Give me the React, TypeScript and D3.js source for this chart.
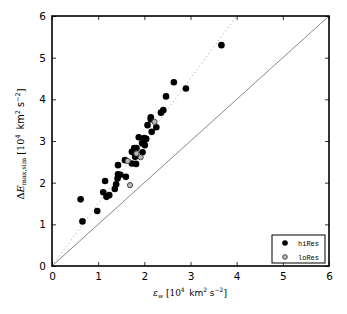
import React, {useEffect, useRef} from "react";
import * as d3 from "d3";

// data
const hiResX = [0.62, 0.66, 0.98, 1.11, 1.15, 1.18, 1.24, 1.36, 1.39, 1.42, 1.43, 1.48, 1.43, 1.60, 1.58, 1.73, 1.82, 1.73, 1.78, 1.83, 1.80, 1.96, 1.95, 2.01, 1.88, 2.00, 2.04, 2.16, 2.26, 2.07, 2.14, 2.14, 2.36, 2.41, 2.47, 2.64, 2.90, 3.67];
const hiResY = [1.60, 1.07, 1.32, 1.77, 2.04, 1.66, 1.70, 1.85, 1.96, 2.10, 2.20, 2.19, 2.42, 2.14, 2.54, 2.46, 2.45, 2.74, 2.83, 2.83, 2.62, 2.73, 2.95, 2.90, 3.09, 3.07, 3.05, 3.22, 3.33, 3.38, 3.52, 3.57, 3.68, 3.74, 4.07, 4.41, 4.26, 5.30];
const loResX = [1.64, 1.69, 1.92, 1.83, 2.22];
const loResY = [2.52, 1.94, 2.61, 2.70, 3.46];
const ticks = [0, 1, 2, 3, 4, 5, 6];
const fitSlope = 1.5;
const legendLabels = ["hiRes", "loRes"];

const App: React.FC = () => {
    const ref = useRef<SVGGElement | null>(null);

    useEffect(() => {
        if (!ref.current) return;
        const root = d3.select(ref.current);
        root.selectAll("*").remove();

        const margin = {top: 16, right: 18, bottom: 48, left: 52};
        const width = 347;
        const height = 314;
        const w = width - margin.left - margin.right;
        const h = height - margin.top - margin.bottom;

        const x = d3.scaleLinear().domain([0, 6]).range([0, w]);
        const y = d3.scaleLinear().domain([0, 6]).range([h, 0]);

        const g = root.append("g").attr("transform", `translate(${margin.left},${margin.top})`);

        // reference lines
        const line = d3.line<number>().x((d) => x(d)).y((d) => y(d));
        g.append("path")
            .attr("d", line([0, 6]))
            .attr("stroke", "#888")
            .attr("stroke-width", 1)
            .attr("fill", "none");
        const dotted = d3.line<number>().x((d) => x(d)).y((d) => y(d * fitSlope));
        g.append("path")
            .attr("d", dotted([0, 6 / fitSlope]))
            .attr("stroke", "#999")
            .attr("stroke-width", 1)
            .attr("stroke-dasharray", "1,3")
            .attr("fill", "none");

        // points
        g.selectAll(".hi")
            .data(hiResX.map((v, i) => [v, hiResY[i]]))
            .join("circle")
            .attr("cx", (d) => x(d[0]))
            .attr("cy", (d) => y(d[1]))
            .attr("r", 3.3)
            .attr("fill", "#000");
        g.selectAll(".lo")
            .data(loResX.map((v, i) => [v, loResY[i]]))
            .join("circle")
            .attr("cx", (d) => x(d[0]))
            .attr("cy", (d) => y(d[1]))
            .attr("r", 2.6)
            .attr("fill", "#bbb")
            .attr("stroke", "#444")
            .attr("stroke-width", 1);

        // axes, ticks inward
        const fmt = (d: d3.NumberValue) => String(d);
        const bottom = g.append("g").attr("transform", `translate(0,${h})`)
            .call(d3.axisBottom(x).tickValues(ticks).tickSizeInner(-4).tickSizeOuter(0).tickPadding(7).tickFormat(fmt));
        const left = g.append("g")
            .call(d3.axisLeft(y).tickValues(ticks).tickSizeInner(-4).tickSizeOuter(0).tickPadding(6).tickFormat(fmt));
        const top = g.append("g")
            .call(d3.axisTop(x).tickValues(ticks).tickSizeInner(-4).tickSizeOuter(0).tickFormat(() => ""));
        const right = g.append("g").attr("transform", `translate(${w},0)`)
            .call(d3.axisRight(y).tickValues(ticks).tickSizeInner(-4).tickSizeOuter(0).tickFormat(() => ""));
        [bottom, left, top, right].forEach((a) => {
            a.select(".domain").remove();
            a.selectAll("line").attr("stroke", "#000").attr("stroke-width", 0.8);
            a.selectAll("text").attr("font-family", "DejaVu Sans").attr("font-size", "10.5px").attr("fill", "#000");
        });

        g.append("rect")
            .attr("width", w)
            .attr("height", h)
            .attr("fill", "none")
            .attr("stroke", "#000")
            .attr("stroke-width", 1.6);

        // legend
        const lg = g.append("g").attr("transform", `translate(${w - 57},${h - 31})`);
        lg.append("rect")
            .attr("width", 53)
            .attr("height", 28)
            .attr("fill", "#fff")
            .attr("stroke", "#000")
            .attr("stroke-width", 1);
        legendLabels.forEach((label, i) => {
            const cy = 8 + i * 14;
            lg.append("circle")
                .attr("cx", 13)
                .attr("cy", cy)
                .attr("r", i === 0 ? 2.8 : 2.3)
                .attr("fill", i === 0 ? "#000" : "#bbb")
                .attr("stroke", i === 0 ? "none" : "#444");
            lg.append("text")
                .attr("x", 26)
                .attr("y", cy + 2.5)
                .attr("font-family", "Liberation Mono")
                .attr("font-size", "7px")
                .text(label);
        });
    }, []);

    const serif = "DejaVu Serif";
    const sans = "DejaVu Sans";

    return (
        <svg width={347} height={314} viewBox="0 0 347 314"
             style={{position: "absolute", left: 0, top: 0, background: "#fff"}}>
            <g ref={ref}/>
            <text x={190} y={296} textAnchor="middle" fontSize={9} fill="#000">
                <tspan fontFamily={serif} fontStyle="italic">ε</tspan>
                <tspan fontFamily={serif} fontStyle="italic" fontSize={6} dy={2}>w</tspan>
                <tspan fontFamily={serif} dy={-2}> [10</tspan>
                <tspan fontFamily={serif} fontSize={6} dy={-4}>4</tspan>
                <tspan fontFamily={sans} dy={4}>{"\u2002km"}</tspan>
                <tspan fontFamily={sans} fontSize={6} dy={-4}>2</tspan>
                <tspan fontFamily={sans} dy={4}> s</tspan>
                <tspan fontFamily={sans} fontSize={6} dy={-4}>−2</tspan>
                <tspan fontFamily={serif} dy={4}>]</tspan>
            </text>
            <text transform="translate(24,144) rotate(-90)" textAnchor="middle" fontSize={9.8} fill="#000">
                <tspan fontFamily={serif}>Δ</tspan>
                <tspan fontFamily={serif} fontStyle="italic">E</tspan>
                <tspan fontFamily={serif} fontSize={6.5} dy={2}>max,sim</tspan>
                <tspan fontFamily={serif} dy={-2}> [10</tspan>
                <tspan fontFamily={serif} fontSize={6.5} dy={-4}>4</tspan>
                <tspan fontFamily={sans} dy={4}>{"\u2002km"}</tspan>
                <tspan fontFamily={sans} fontSize={6.5} dy={-4}>2</tspan>
                <tspan fontFamily={sans} dy={4}> s</tspan>
                <tspan fontFamily={sans} fontSize={6.5} dy={-4}>−2</tspan>
                <tspan fontFamily={serif} dy={4}>]</tspan>
            </text>
        </svg>
    );
};

export default App;
